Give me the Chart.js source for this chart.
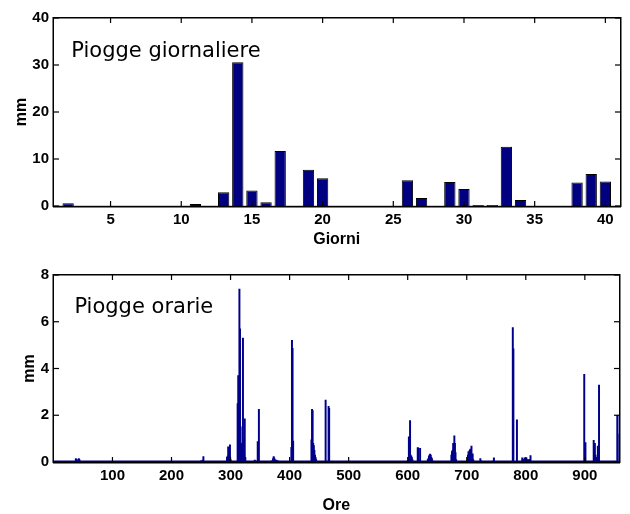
<!DOCTYPE html>
<html><head><meta charset="utf-8">
<script src="https://cdn.jsdelivr.net/npm/chart.js@4.4.0/dist/chart.umd.min.js"></script>
<style>
html,body{margin:0;padding:0;background:#fff;width:630px;height:514px;overflow:hidden}
canvas{position:absolute;left:0}
</style></head>
<body>
<canvas id="c1" width="630" height="257" style="top:0"></canvas>
<canvas id="c2" width="630" height="257" style="top:257px"></canvas>
<script>
// ---- Daily rainfall (top) ----
const dayCategories = [2,3,4,5,6,7,8,9,10,11,12,13,14,15,16,17,18,19,20,21,22,23,24,25,26,27,28,29,30,31,32,33,34,35,36,37,38,39,40];
const dailyRain =     [0.6,0,0,0,0,0,0,0,0,0.4,0,2.9,30.6,3.3,0.8,11.7,0,7.7,5.9,0,0,0,0,0,5.5,1.7,0,5.1,3.6,0.2,0.2,12.6,1.3,0,0,0,5.0,6.8,5.2];
const dayTicks = [5,10,15,20,25,30,35,40];
const dailyYTicks = [0,10,20,30,40];

// ---- Hourly rainfall (bottom) ----
const hourFirst = 1, hourLast = 957;
const rainHours = [38,39,42,43,44, 250,252,253,254, 294,295,296,297,298,299,300,
  312,313,314,315,316,317,318,319,320,321,322,323,324,325, 341,342,346,348,
  370,372,373,374,375,377,379,380, 403,404,405,406, 437,438,439,440,441,442,443,444,445,
  461,466,467, 602,603,604,605,606,607,608, 617,618,621, 634,635,636,637,638,639,640,641,642,
  674,675,676,677,678,679,680,681,682, 702,703,704,705,706,707,708,709,710,711,
  723,724, 745,746, 778,779,785, 794,795,797,798,800,801,803,805,807,808,
  899,901, 915,916,917,918,919,920,921,922,924, 955,956,957];
const rainValues = [0.15,0.1,0.1,0.15,0.1, 0.05,0.04,0.08,0.23, 0.2,0.25,0.65,0.1,0.35,0.73,0.1,
  2.5,3.7,1.0,7.4,5.7,1.5,0.8,0.5,0.5,5.3,1.0,0.4,1.85,0.2, 0.08,0.05,0.87,2.25,
  0.05,0.15,0.23,0.18,0.1,0.08,0.05,0.05, 0.63,5.2,4.86,0.9, 0.95,2.25,2.2,0.8,0.7,0.5,0.3,0.2,0.1,
  2.65,2.38,2.3, 1.08,0.2,1.77,0.3,0.25,0.2,0.1, 0.62,0.6,0.58, 0.1,0.15,0.25,0.3,0.34,0.3,0.2,0.15,0.05,
  0.3,0.45,0.5,0.8,0.6,1.12,0.8,0.4,0.1, 0.3,0.45,0.2,0.5,0.55,0.3,0.68,0.2,0.35,0.1,
  0.15,0.05, 0.05,0.18, 5.75,4.84,1.8, 0.18,0.1,0.1,0.18,0.1,0.18,0.1,0.1,0.1,0.27,
  3.75,0.83, 0.93,0.3,0.8,0.3,0.2,0.2,0.1,0.68,3.29, 2.0,2.0,1.2];
const hourTicks = [100,200,300,400,500,600,700,800,900];
const hourlyYTicks = [0,2,4,6,8];

// build the hourly table (hours without rain are 0)
const rainMap = new Map(rainHours.map((h,i)=>[h,rainValues[i]]));
const hourlyPoints = [];
for (let h = hourFirst; h <= hourLast; h++) hourlyPoints.push({x:h, y: rainMap.get(h) || 0});

const TICK_FONT = {family:'"Liberation Sans", Arial, sans-serif', size:15, weight:'bold'};
const TITLE_FONT = {family:'"Liberation Sans", Arial, sans-serif', size:16, weight:'bold', lineHeight:1};
const NAVY = '#000080';

function makeBoxPlugin(label, dx, baseline, zeroLine){
  return {
    id:'box',
    afterDraw(chart){
      const {ctx, chartArea:a, scales} = chart;
      const L = Math.round(a.left), R = Math.round(a.right), T = Math.round(a.top), B = Math.round(a.bottom);
      ctx.save();
      if (zeroLine) {
        const y0 = Math.round(scales.y.getPixelForValue(0));
        ctx.fillStyle = NAVY;
        ctx.fillRect(scales.x.getPixelForValue(hourFirst), y0 - 1.5, scales.x.getPixelForValue(hourLast) - scales.x.getPixelForValue(hourFirst), 1.5);
      }
      ctx.fillStyle = '#000';
      // box
      ctx.fillRect(L - 1, T - 1, R - L + 2, 1.5);
      ctx.fillRect(L - 1, B - 0.2, R - L + 2, 1.7);
      ctx.fillRect(L - 1.5, T - 1, 1.5, B - T + 2);
      ctx.fillRect(R, T - 1, 1.5, B - T + 2);
      // inward tick marks
      scales.x.ticks.forEach(t=>{
        const x = scales.x.getPixelForValue(t.value);
        ctx.fillRect(x - 0.6, B - 5, 1.2, 5);
        ctx.fillRect(x - 0.6, T, 1.2, 5);
      });
      scales.y.ticks.forEach(t=>{
        const y = scales.y.getPixelForValue(t.value);
        ctx.fillRect(L, y - 0.6, 5, 1.2);
        ctx.fillRect(R - 5, y - 0.6, 5, 1.2);
      });
      ctx.font = '21px "DejaVu Sans", Verdana, sans-serif';
      ctx.textBaseline = 'alphabetic';
      ctx.textAlign = 'left';
      ctx.fillText(label, a.left + dx, a.top + baseline);
      ctx.restore();
    }
  };
}

function axes(opts){
  return {
    x:{type:'linear', min:opts.xmin, max:opts.xmax, offset:false,
       grid:{display:false, drawTicks:false, offset:false}, border:{display:false},
       afterBuildTicks:s=>{ s.ticks = opts.xticks.map(v=>({value:v})); },
       afterFit:s=>{ s.height = opts.xh; },
       ticks:{padding:5, color:'#000', font:TICK_FONT, autoSkip:false, maxRotation:0},
       title:{display:true, text:opts.xtitle, color:'#000', font:TITLE_FONT, padding:{top:0,bottom:opts.xtp}}},
    y:{type:'linear', min:opts.ymin, max:opts.ymax,
       grid:{display:false, drawTicks:false}, border:{display:false},
       afterBuildTicks:s=>{ s.ticks = opts.yticks.map(v=>({value:v})); },
       afterFit:s=>{ s.width = 54; },
       ticks:{padding:5, color:'#000', font:TICK_FONT},
       title:{display:true, text:'mm', color:'#000', font:TITLE_FONT, padding:{top:opts.ytp,bottom:0}}}
  };
}

new Chart(document.getElementById('c1'), {
  type:'bar',
  data:{datasets:[{
    data: dayCategories.map((d,i)=>({x:d, y:dailyRain[i]})),
    backgroundColor:NAVY, borderColor:'#000', borderWidth:1,
    barPercentage:0.8, categoryPercentage:1
  }]},
  options:{
    responsive:false, animation:false, devicePixelRatio:1,
    layout:{padding:{top:18, right:10.5, left:0, bottom:0}},
    plugins:{legend:{display:false}, tooltip:{enabled:false}},
    scales: axes({xmin:1, xmax:41, xticks:dayTicks, xh:51, xtitle:'Giorni', xtp:9,
                  ymin:0, ymax:40, yticks:dailyYTicks, ytp:13.7})
  },
  plugins:[makeBoxPlugin('Piogge giornaliere', 17.3, 38.5, false)]
});

new Chart(document.getElementById('c2'), {
  type:'bar',
  data:{datasets:[{
    data: hourlyPoints,
    backgroundColor:'#00008B', borderWidth:0,
    barThickness:1.3
  }]},
  options:{
    responsive:false, animation:false, devicePixelRatio:1,
    layout:{padding:{top:18, right:11.5, left:0, bottom:0}},
    plugins:{legend:{display:false}, tooltip:{enabled:false}},
    scales: axes({xmin:hourFirst, xmax:hourLast, xticks:hourTicks, xh:52, xtitle:'Ore', xtp:0,
                  ymin:0, ymax:8, yticks:hourlyYTicks, ytp:22})
  },
  plugins:[makeBoxPlugin('Piogge orarie', 20.4, 38.3, true)]
});
</script>
</body></html>
